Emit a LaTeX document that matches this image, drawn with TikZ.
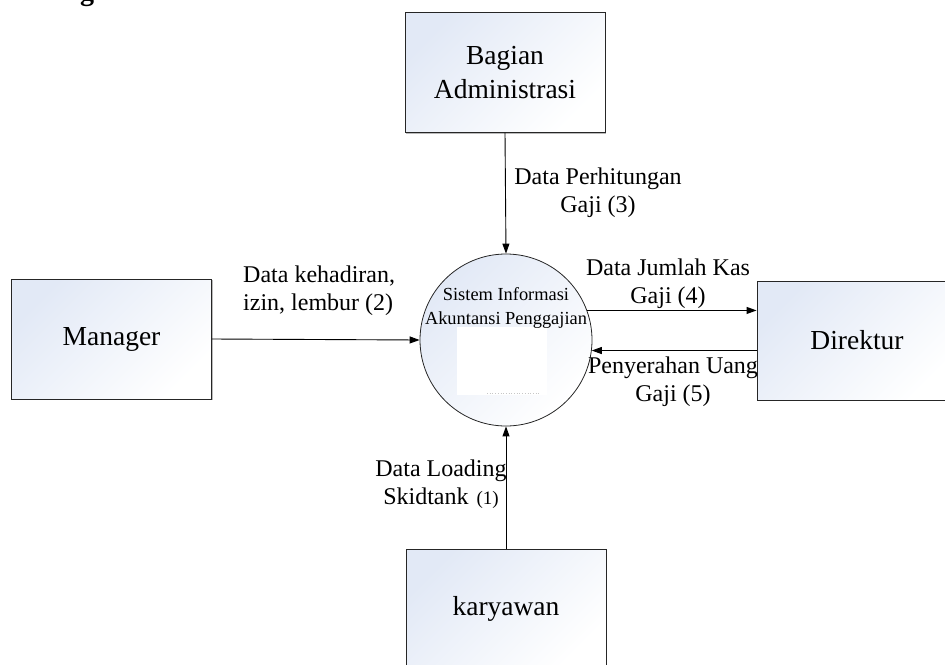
\documentclass[tikz,border=0pt]{standalone}
\usepackage{fontspec}
\setmainfont{Liberation Serif}
\usetikzlibrary{arrows.meta,shadows}
\definecolor{entfill}{RGB}{226,233,246}
\begin{document}
\begin{tikzpicture}[x=1pt,y=-1pt,
  entity/.style={draw=black!85, line width=0.9pt, minimum width=200pt,
    minimum height=120pt, inner sep=0pt, top color=entfill, bottom color=white,
    shading angle=45, align=center, font=\fontsize{27.5}{34}\selectfont,
    drop shadow={shadow xshift=1.2pt, shadow yshift=-1.2pt, fill=black!45, opacity=0.6}},
  process/.style={circle, draw=black!85, line width=0.8pt, minimum size=172pt,
    inner sep=0pt, top color=entfill, bottom color=white, shading angle=45},
  proclabel/.style={align=center, inner sep=0pt, font=\fontsize{18.4}{23.5}\selectfont},
  flowlabel/.style={align=center, inner sep=0pt, font=\fontsize{24}{28.5}\selectfont},
  flow/.style={-{Triangle[length=10pt,width=7pt]}, line width=0.9pt}]
\useasboundingbox (0,0) rectangle (945,664);

% heading fragment cut by the top edge
\node[anchor=base, inner sep=0pt, font=\fontsize{28}{30}\selectfont\bfseries] (head) at (87,0.5) {g};

% external entities
\node[entity] (admin) at (505,72.5) {Bagian\\Administrasi};
\node[entity] (mgr) at (111.5,339) {Manager};
\node[entity, minimum height=119pt] (dir) at (857,340.5) {Direktur};
\node[entity] (kary) at (506,609) {karyawan};

% the process
\node[process] (proc) at (506,340) {};
\fill[white] (457,327) rectangle (547,395);
\draw[black!22, dotted, line width=0.7pt] (487,393) -- (540,393);
\node[proclabel] (proctext) at (506,308) {Sistem Informasi\\Akuntansi Penggajian};

% data flows
\draw[flow] (admin.south) -- (proc.north);
\draw[flow] (mgr.east) -- (proc.west);
\draw[flow] (proc.20) -- (proc.20 -| dir.west);
\draw[flow] (proc.-7 -| dir.west) -- (proc.-7);
\draw[flow] (kary.north) -- (proc.south);

% flow labels
\node[flowlabel] (l3) at (598,192.5) {Data Perhitungan\\Gaji (3)};
\node[flowlabel, align=left, anchor=west] (l2) at (243,290.5) {Data kehadiran,\\izin, lembur (2)};
\node[flowlabel] (l4) at (668,283.5) {Data Jumlah Kas\\Gaji (4)};
\node[flowlabel] (l5) at (673,381.5) {Penyerahan Uang\\Gaji (5)};
\node[flowlabel] (l1) at (441,484) {Data Loading\\Skidtank\hspace{2pt} {\fontsize{19}{20}\selectfont(1)}};
\end{tikzpicture}
\end{document}
